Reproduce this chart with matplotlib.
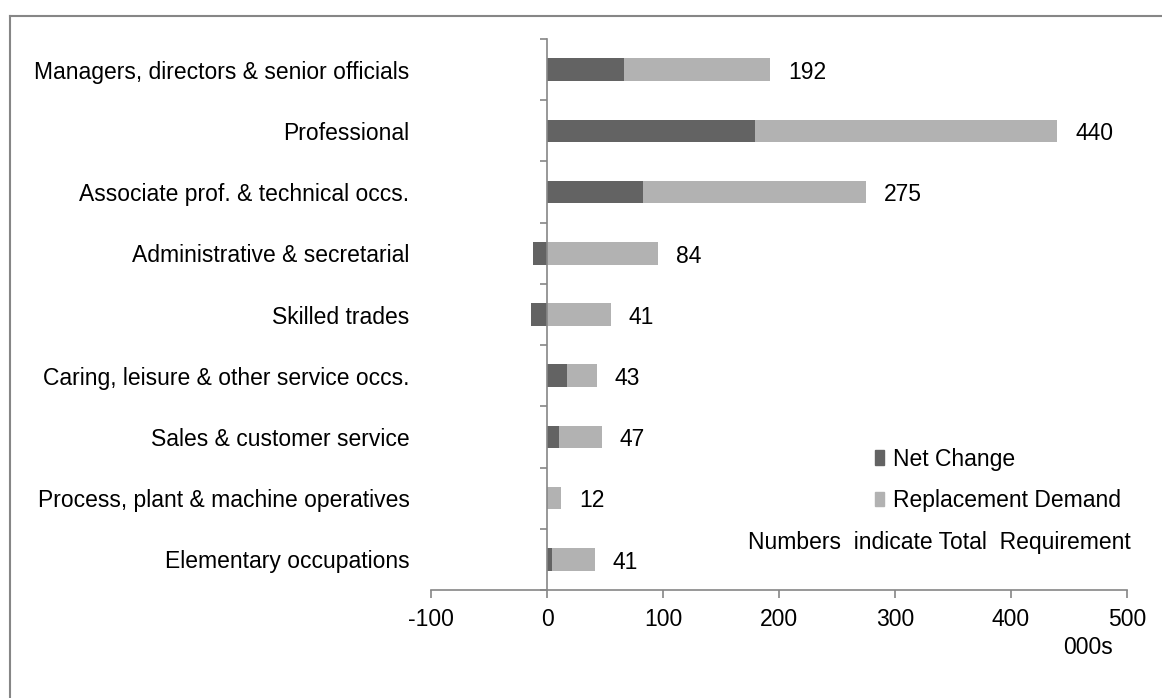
import numpy as np
import matplotlib
matplotlib.use('Agg')
import matplotlib.pyplot as plt
from matplotlib.patches import Patch
from matplotlib.lines import Line2D

# occupations, top to bottom (thousands)
occupations = ['Managers, directors & senior officials', 'Professional',
               'Associate prof. & technical occs.', 'Administrative & secretarial',
               'Skilled trades', 'Caring, leisure & other service occs.',
               'Sales & customer service', 'Process, plant & machine operatives',
               'Elementary occupations']
net_change = [66, 179, 83, -12, -14, 17, 10, 0, 4]
replacement = [126, 261, 192, 96, 55, 26, 37, 12, 37]
total_req = [192, 440, 275, 84, 41, 43, 47, 12, 41]

DARK = '#636363'
LIGHT = '#b2b2b2'
AXCOL = '#868686'
FS = 16.5
plt.rcParams['font.family'] = ['Liberation Sans', 'DejaVu Sans']
plt.rcParams['axes.unicode_minus'] = False

fig = plt.figure(figsize=(11.62, 6.98), dpi=100)
ax = fig.add_axes([431/1162, 1 - 590/698, (1127 - 431)/1162, (590 - 39)/698])

y = np.arange(len(occupations))
net = np.array(net_change)
rep = np.array(replacement)
# positive net stacks under replacement; negative net goes left of zero
rep_left = np.where(net > 0, net, 0)
ax.barh(y, net, height=0.37, color=DARK, label='Net Change')
ax.barh(y, rep, left=rep_left, height=0.37, color=LIGHT, label='Replacement Demand')

for i, tot in enumerate(total_req):
    end = rep_left[i] + rep[i]
    ax.annotate(f'{tot}', (end, y[i]), xytext=(13, -2), textcoords='offset points',
                va='center', ha='left', fontsize=FS)

ax.set_ylim(len(occupations) - 0.5, -0.5)
ax.set_xlim(-100, 500)
ax.set_xticks(range(-100, 501, 100))
ax.set_yticks(y)
ax.set_yticklabels(occupations)
ax.set_yticks(np.arange(-0.5, len(occupations), 1), minor=True)

for s in ['top', 'right']:
    ax.spines[s].set_visible(False)
ax.spines['left'].set_position(('data', 0))
for s in ['bottom', 'left']:
    ax.spines[s].set_color(AXCOL)
    ax.spines[s].set_linewidth(1.2)

ax.tick_params(axis='y', which='major', length=0, pad=99, labelsize=FS)
ax.tick_params(axis='y', which='minor', length=5, color=AXCOL, width=1.2)
ax.tick_params(axis='x', length=6, color=AXCOL, width=1.2, labelsize=FS, pad=7)

handles = [Patch(color=DARK), Patch(color=LIGHT)]
fig.legend(handles, ['Net Change', 'Replacement Demand'], loc='upper left',
           bbox_to_anchor=(854/1162, 1 - 427/698), frameon=False, fontsize=FS,
           handlelength=0.4, handleheight=0.57, handletextpad=0.4, labelspacing=0.8)
fig.text(748/1162, 1 - 543/698, 'Numbers  indicate Total  Requirement', fontsize=FS,
         va='center', ha='left')
fig.text(1063/1162, 1 - 648/698, '000s', fontsize=FS, va='center', ha='left')

# outer chart frame (left and top edges visible)
fig.add_artist(Line2D([10/1162, 10/1162], [0, 1 - 16/698], color=AXCOL, lw=1.5,
                      transform=fig.transFigure))
fig.add_artist(Line2D([10/1162, 1], [1 - 16/698, 1 - 16/698], color=AXCOL, lw=1.5,
                      transform=fig.transFigure))

fig.savefig('out.png', dpi=100)
